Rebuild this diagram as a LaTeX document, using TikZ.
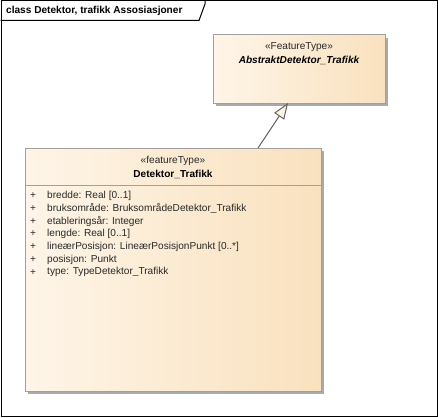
\documentclass[tikz,border=0pt]{standalone}
\usepackage{fontspec}
\setmainfont{Liberation Sans}
\usetikzlibrary{arrows.meta,shadows}
\definecolor{boxleft}{RGB}{254,245,232}
\definecolor{boxright}{RGB}{249,225,190}
\definecolor{boxborder}{RGB}{160,160,160}
\definecolor{shadowgray}{RGB}{170,170,170}
\definecolor{linegray}{RGB}{100,100,100}
\definecolor{trifill}{RGB}{253,243,228}
\definecolor{txt}{RGB}{40,40,40}
\tikzset{
  umlbox/.style={draw=boxborder, line width=1pt, left color=boxleft, right color=boxright,
    anchor=north west, inner sep=0pt, outer sep=0pt,
    drop shadow={shadow xshift=3pt, shadow yshift=-3pt, opacity=1, fill=shadowgray}},
  lbl/.style={inner sep=0pt, font=\fontsize{10.1}{12}\selectfont, text=txt},
  blbl/.style={lbl, font=\fontsize{10.1}{12}\selectfont\bfseries, text=black},
  attr/.style={lbl, anchor=west},
  gen/.style={draw=linegray, line width=1pt, -{Triangle[length=16pt,width=12pt,fill=trifill]}},
}
\begin{document}
\begin{tikzpicture}[x=1pt,y=-1pt]
\useasboundingbox (0,0) rectangle (438,417);
% frame
\node[draw=black, line width=1pt, minimum width=436, minimum height=415, anchor=north west, inner sep=0pt] (frame) at (0.5,0.5) {};
\draw[black, line width=1pt] (0.5,20.5) -- (199,20.5) -- (205,4) -- (205,0.5);
\node[blbl, anchor=west] (title) at (6,11) {class Detektor, trafikk Assosiasjoner};
% upper box
\node[umlbox, minimum width=172, minimum height=68] (abs) at (213,35) {};
\node[lbl] (absst) at (299,47) {«FeatureType»};
\node[blbl, font=\fontsize{10.1}{12}\selectfont\bfseries\itshape] (absname) at (299,60) {AbstraktDetektor\_Trafikk};
% lower box
\node[umlbox, minimum width=296, minimum height=243] (det) at (25,148) {};
\draw[boxborder, line width=1pt] (det.west |- 0,185) -- (det.east |- 0,185);
\node[lbl] (detst) at (173,161) {«featureType»};
\node[blbl] (detname) at (173,174) {Detektor\_Trafikk};
\foreach \i/\t in {0/{bredde: Real [0..1]},
                   1/{bruksområde: BruksområdeDetektor\_Trafikk},
                   2/{etableringsår: Integer},
                   3/{lengde: Real [0..1]},
                   4/{lineærPosisjon: LineærPosisjonPunkt [0..*]},
                   5/{posisjon: Punkt},
                   6/{type: TypeDetektor\_Trafikk}} {
  \node[lbl] (p\i) at (33,195.5+12.8*\i) {+};
  \node[attr] (a\i) at (47,195.5+12.8*\i) {\t};
}
% generalization
\draw[gen] ([xshift=233pt]det.north west) -- ([xshift=75pt]abs.south west);
\end{tikzpicture}
\end{document}
